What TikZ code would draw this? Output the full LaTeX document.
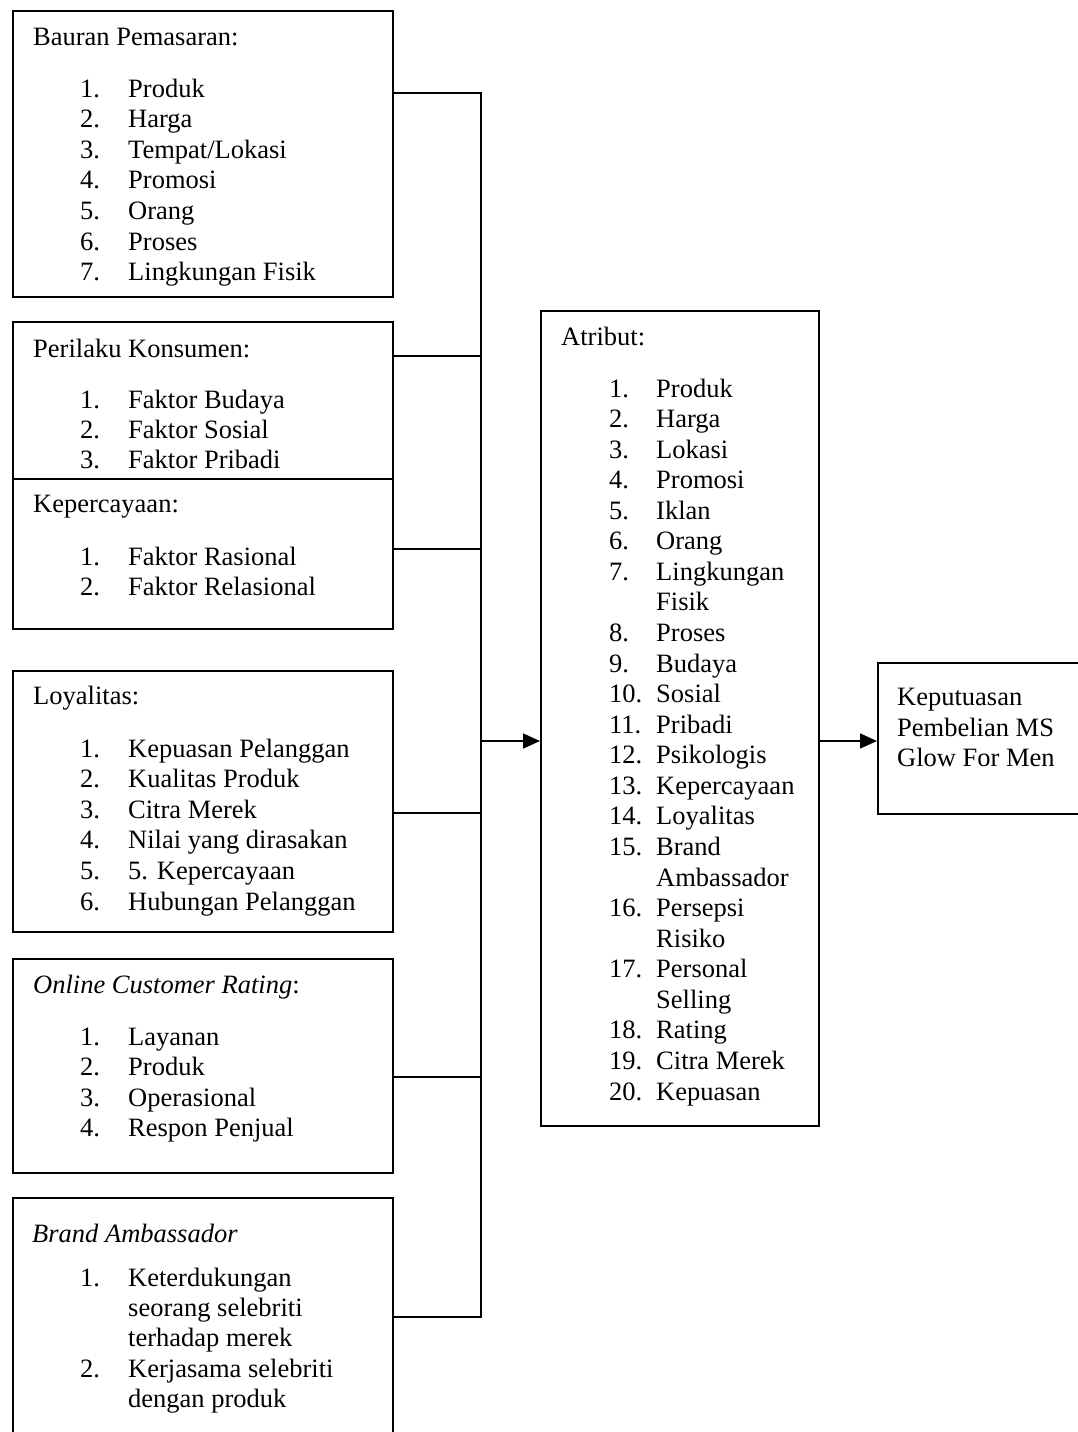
\documentclass[tikz,border=0pt]{standalone}
\usepackage{fontspec}
\setmainfont{Liberation Serif}
\usetikzlibrary{arrows.meta, positioning}

\tikzset{
  box/.style={draw, line width=2.2pt, fill=white, anchor=north west, inner sep=0pt},
  txt/.style={anchor=base west, inner sep=0pt},
  link/.style={line width=1.4pt},
  arr/.style={link, -{Triangle[length=17pt, width=15pt]}}
}

\begin{document}
\begin{tikzpicture}[x=1pt, y=-1pt, font=\fontsize{26.5}{30.6}\selectfont]
    \useasboundingbox (0,0) rectangle (1078,1432);
    \clip (0,0) rectangle (1078,1432);

    % Left boxes
    \node[box, minimum width=380pt, minimum height=286pt] (bauran) at (12,10) {};
    \node[box, minimum width=380pt, minimum height=190pt] (perilaku) at (12,321) {};
    \node[box, minimum width=380pt, minimum height=150pt] (percaya) at (12,478) {};
    \node[box, minimum width=380pt, minimum height=261pt] (loyal) at (12,670) {};
    \node[box, minimum width=380pt, minimum height=214pt] (rating) at (12,958) {};
    \node[box, minimum width=380pt, minimum height=260pt] (brand) at (12,1197) {};

    % Middle and right boxes
    \node[box, minimum width=278pt, minimum height=815pt] (atribut) at (540,310) {};
    \node[box, minimum width=213pt, minimum height=151pt] (keputusan) at (877,662) {};

    % Bauran Pemasaran
    \node[txt] (bauran-h) at (33,45) {Bauran Pemasaran:};
    \foreach \n/\t [count=\i from 0] in {1./Produk, 2./Harga, 3./{Tempat/Lokasi}, 4./Promosi, 5./Orang, 6./Proses, 7./{Lingkungan Fisik}}
      {\node[txt] (bauran-n\i) at (80,97+30.6*\i) {\n};
       \node[txt] (bauran-t\i) at (128,97+30.6*\i) {\t};}

    % Perilaku Konsumen
    \node[txt] (perilaku-h) at (33,357) {Perilaku Konsumen:};
    \foreach \n/\t [count=\i from 0] in {1./{Faktor Budaya}, 2./{Faktor Sosial}, 3./{Faktor Pribadi}}
      {\node[txt] (perilaku-n\i) at (80,408+30*\i) {\n};
       \node[txt] (perilaku-t\i) at (128,408+30*\i) {\t};}

    % Kepercayaan
    \node[txt] (percaya-h) at (33,512) {Kepercayaan:};
    \foreach \n/\t [count=\i from 0] in {1./{Faktor Rasional}, 2./{Faktor Relasional}}
      {\node[txt] (percaya-n\i) at (80,565+30*\i) {\n};
       \node[txt] (percaya-t\i) at (128,565+30*\i) {\t};}

    % Loyalitas
    \node[txt] (loyal-h) at (33,704) {Loyalitas:};
    \foreach \n/\t [count=\i from 0] in {1./{Kepuasan Pelanggan}, 2./{Kualitas Produk}, 3./{Citra Merek}, 4./{Nilai yang dirasakan}, 5./{5. Kepercayaan}, 6./{Hubungan Pelanggan}}
      {\node[txt] (loyal-n\i) at (80,757+30.6*\i) {\n};
       \node[txt] (loyal-t\i) at (128,757+30.6*\i) {\t};}

    % Online Customer Rating
    \node[txt] (rating-h) at (33,993) {\textit{Online Customer Rating}:};
    \foreach \n/\t [count=\i from 0] in {1./Layanan, 2./Produk, 3./Operasional, 4./{Respon Penjual}}
      {\node[txt] (rating-n\i) at (80,1045+30.6*\i) {\n};
       \node[txt] (rating-t\i) at (128,1045+30.6*\i) {\t};}

    % Brand Ambassador
    \node[txt] (brand-h) at (32,1242) {\textit{Brand Ambassador}};
    \foreach \n/\t [count=\i from 0] in {1./Keterdukungan, {}/{seorang selebriti}, {}/{terhadap merek}, 2./{Kerjasama selebriti}, {}/{dengan produk}}
      {\node[txt] (brand-n\i) at (80,1286+30.4*\i) {\n};
       \node[txt] (brand-t\i) at (128,1286+30.4*\i) {\t};}

    % Atribut
    \node[txt] (atribut-h) at (561,345) {Atribut:};
    \foreach \n/\t [count=\i from 0] in {1./Produk, 2./Harga, 3./Lokasi, 4./Promosi, 5./Iklan, 6./Orang, 7./Lingkungan, {}/Fisik, 8./Proses, 9./Budaya, 10./Sosial, 11./Pribadi, 12./Psikologis, 13./Kepercayaan, 14./Loyalitas, 15./Brand, {}/Ambassador, 16./Persepsi, {}/Risiko, 17./Personal, {}/Selling, 18./Rating, 19./{Citra Merek}, 20./Kepuasan}
      {\node[txt] (atribut-n\i) at (609,397+30.57*\i) {\n};
       \node[txt] (atribut-t\i) at (656,397+30.57*\i) {\t};}

    % Keputusan Pembelian
    \node[txt] (keputusan-1) at (897,705) {Keputuasan};
    \node[txt] (keputusan-2) at (897,736) {Pembelian MS};
    \node[txt] (keputusan-3) at (897,766) {Glow For Men};

    % Connectors
    \coordinate (busT) at (481,93);
    \coordinate (busB) at (481,1317);
    \coordinate (tap2) at (481,356);
    \coordinate (tap3) at (481,549);
    \coordinate (tap4) at (481,813);
    \coordinate (tap5) at (481,1077);
    \coordinate (mid) at (481,741);
    \draw[link] (bauran.east |- busT) -- (busT) -- (busB) -- (brand.east |- busB);
    \draw[link] (perilaku.east |- tap2) -- (tap2);
    \draw[link] (percaya.east |- tap3) -- (tap3);
    \draw[link] (loyal.east |- tap4) -- (tap4);
    \draw[link] (rating.east |- tap5) -- (tap5);
    \draw[arr] (mid) -- (atribut.west |- mid);
    \draw[arr] (atribut.east |- mid) -- (keputusan.west |- mid);
\end{tikzpicture}
\end{document}
